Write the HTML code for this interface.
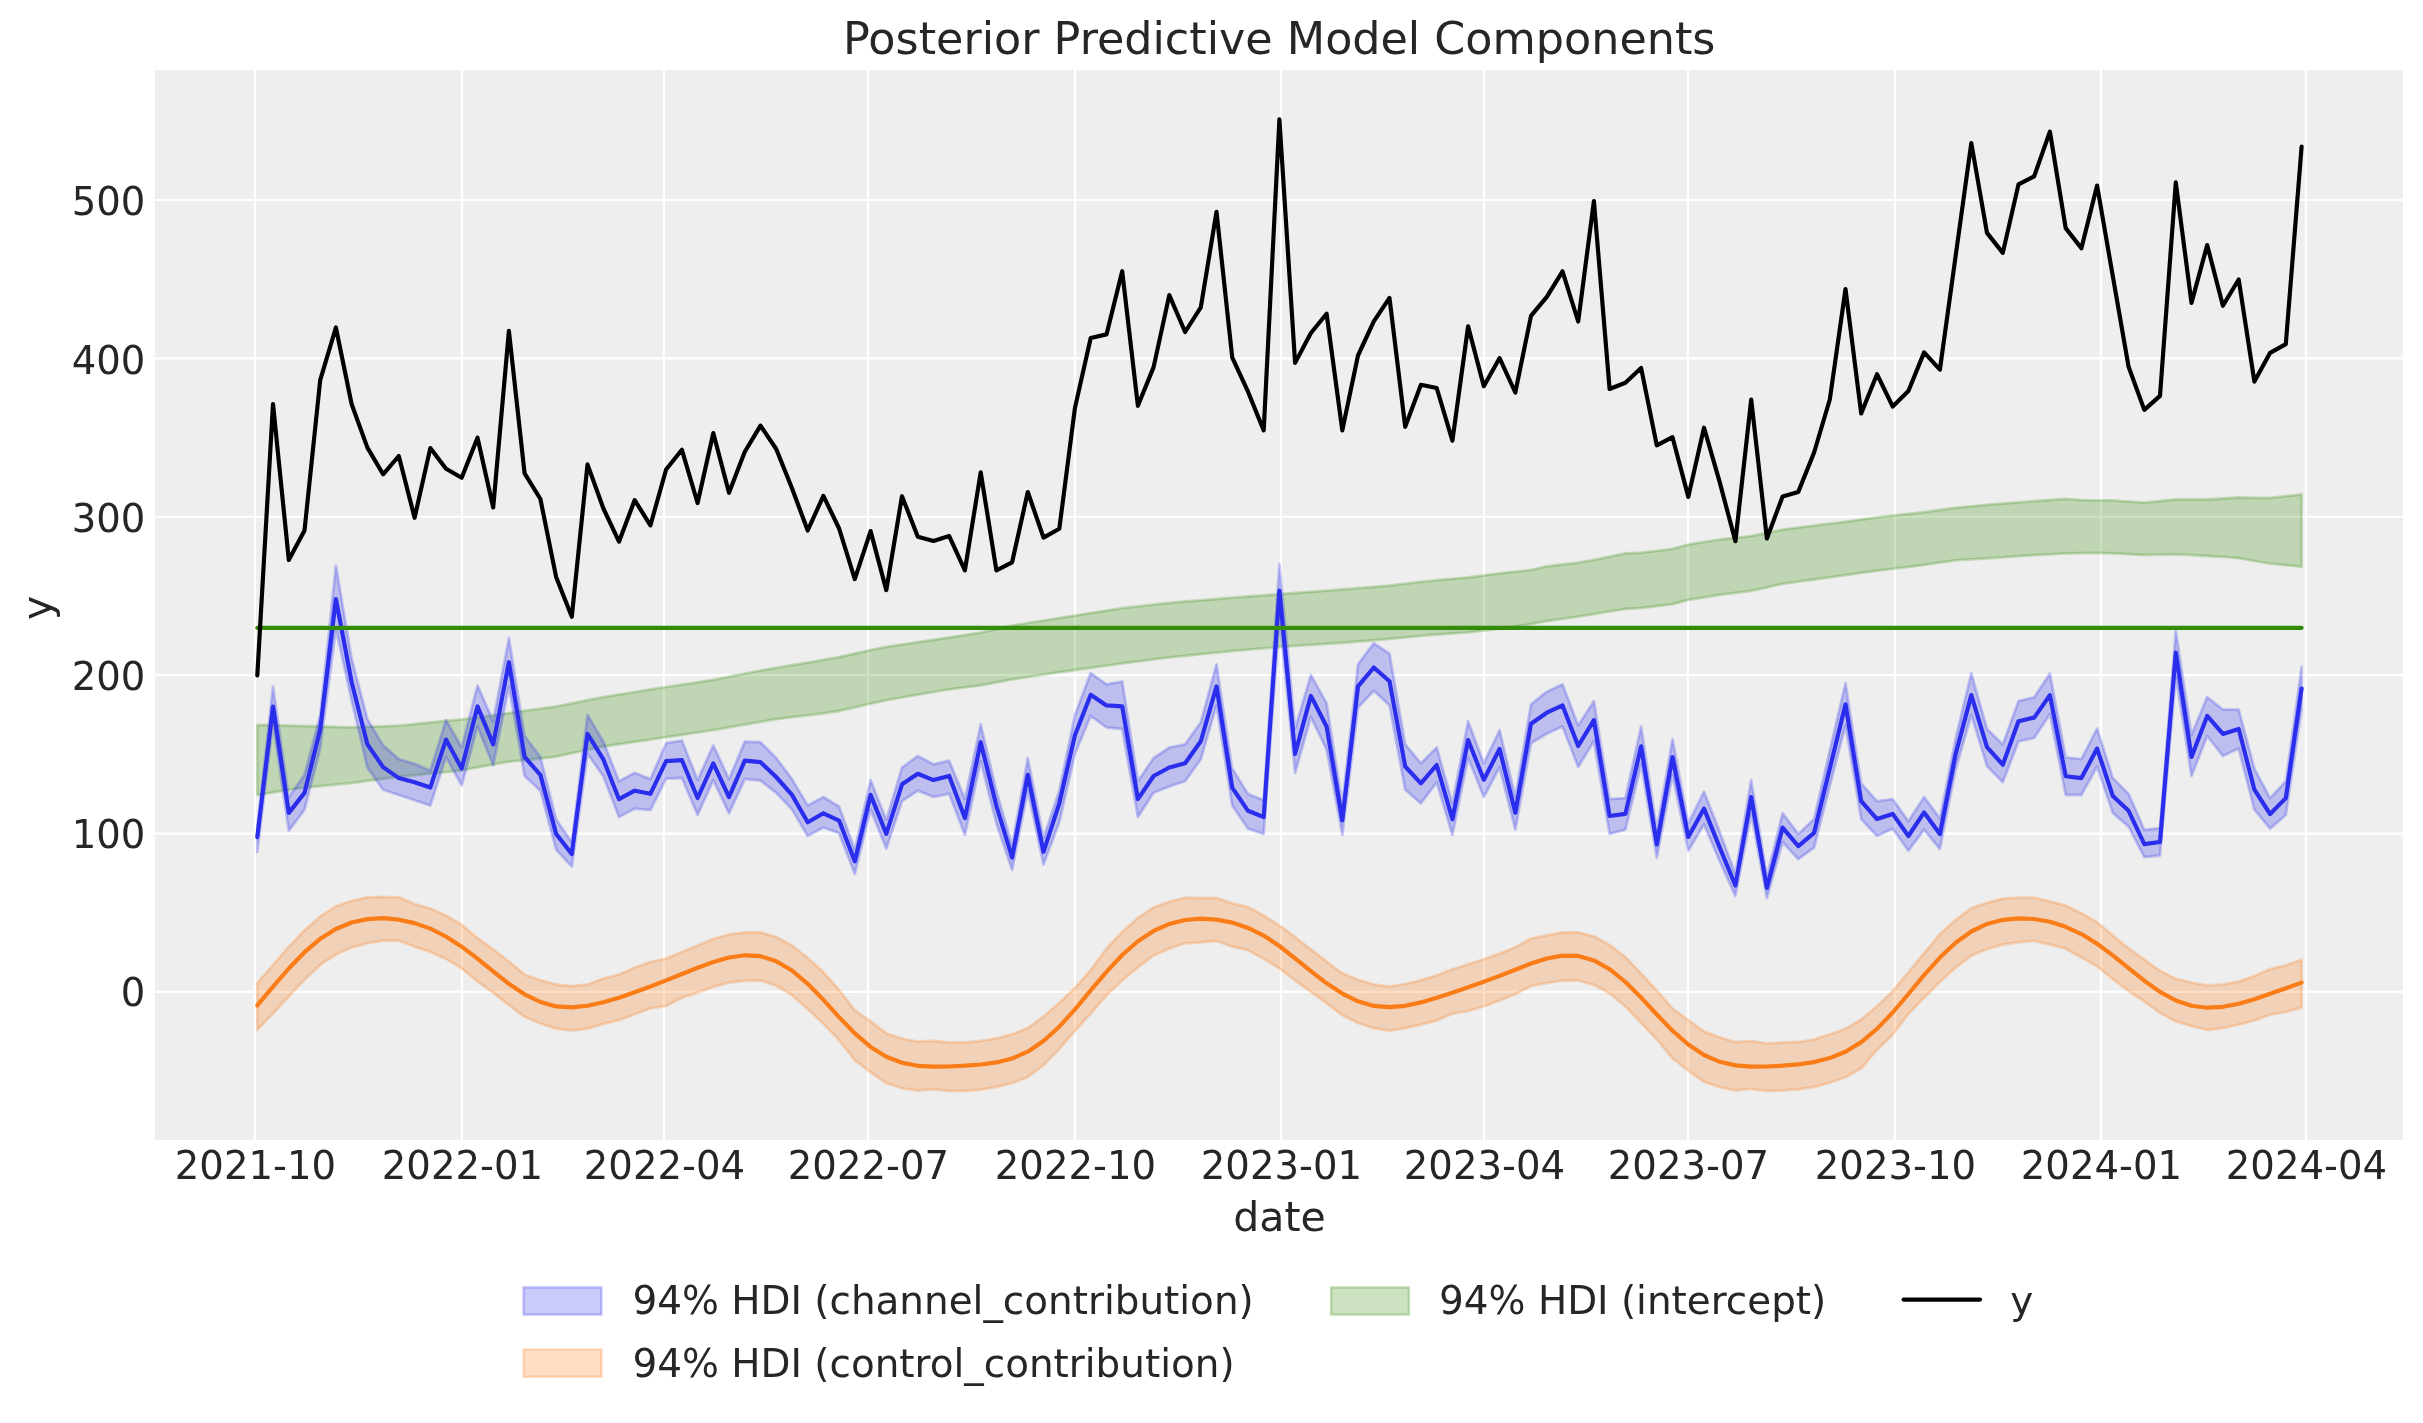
<!DOCTYPE html>
<html><head><meta charset="utf-8"><title>Posterior Predictive Model Components</title>
<style>html,body{margin:0;padding:0;background:#fff;}svg{display:block;will-change:transform;}</style>
</head><body>
<svg width="2423" height="1423" viewBox="0 0 2423 1423">
<rect x="0" y="0" width="2423" height="1423" fill="#ffffff"/>
<rect x="155.0" y="70.0" width="2248.0" height="1070.0" fill="#eeeeee"/>
<g stroke="#ffffff" stroke-width="2.22" stroke-linecap="butt">
<line x1="155.0" x2="2403.0" y1="991.90" y2="991.90"/>
<line x1="155.0" x2="2403.0" y1="833.52" y2="833.52"/>
<line x1="155.0" x2="2403.0" y1="675.14" y2="675.14"/>
<line x1="155.0" x2="2403.0" y1="516.76" y2="516.76"/>
<line x1="155.0" x2="2403.0" y1="358.38" y2="358.38"/>
<line x1="155.0" x2="2403.0" y1="200.00" y2="200.00"/>
<line x1="255.00" x2="255.00" y1="70.0" y2="1140.0"/>
<line x1="462.00" x2="462.00" y1="70.0" y2="1140.0"/>
<line x1="664.00" x2="664.00" y1="70.0" y2="1140.0"/>
<line x1="868.00" x2="868.00" y1="70.0" y2="1140.0"/>
<line x1="1075.00" x2="1075.00" y1="70.0" y2="1140.0"/>
<line x1="1281.00" x2="1281.00" y1="70.0" y2="1140.0"/>
<line x1="1484.00" x2="1484.00" y1="70.0" y2="1140.0"/>
<line x1="1688.00" x2="1688.00" y1="70.0" y2="1140.0"/>
<line x1="1895.00" x2="1895.00" y1="70.0" y2="1140.0"/>
<line x1="2101.00" x2="2101.00" y1="70.0" y2="1140.0"/>
<line x1="2306.00" x2="2306.00" y1="70.0" y2="1140.0"/>
</g>
<g>
<polygon points="257.3,724.9 273.0,725.2 288.8,725.6 304.5,726.0 320.2,726.5 335.9,727.0 351.6,727.3 367.4,726.8 383.1,726.3 398.8,725.7 414.6,724.1 430.3,722.5 446.0,720.9 461.7,719.4 477.5,717.7 493.2,715.4 508.9,713.1 524.6,710.8 540.4,708.7 556.1,706.5 571.8,703.4 587.5,700.2 603.2,697.2 619.0,694.6 634.7,692.0 650.4,689.4 666.1,687.0 681.9,684.7 697.6,682.3 713.3,679.8 729.0,676.7 744.8,673.6 760.5,670.5 776.2,667.9 792.0,665.2 807.7,662.6 823.4,659.9 839.1,657.1 854.8,653.6 870.6,650.1 886.3,646.9 902.0,644.6 917.8,642.2 933.5,639.8 949.2,637.5 964.9,635.1 980.7,632.7 996.4,629.1 1012.1,625.6 1027.8,623.0 1043.5,620.5 1059.3,618.1 1075.0,615.6 1090.7,613.1 1106.5,610.6 1122.2,608.2 1137.9,606.4 1153.6,604.6 1169.3,602.9 1185.1,601.5 1200.8,600.3 1216.5,599.0 1232.2,597.7 1248.0,596.5 1263.7,595.4 1279.4,594.2 1295.1,593.0 1310.9,591.8 1326.6,590.7 1342.3,589.5 1358.0,588.2 1373.8,587.0 1389.5,585.6 1405.2,583.7 1420.9,581.9 1436.7,580.2 1452.4,578.8 1468.1,577.5 1483.8,575.4 1499.6,573.3 1515.3,571.7 1531.0,570.0 1546.8,566.3 1562.5,564.5 1578.2,562.7 1593.9,559.9 1609.6,556.7 1625.4,553.4 1641.1,552.7 1656.8,550.9 1672.5,548.9 1688.3,544.6 1704.0,542.0 1719.7,539.5 1735.4,537.8 1751.2,536.1 1766.9,532.9 1782.6,529.6 1798.3,527.6 1814.1,525.6 1829.8,523.7 1845.5,521.8 1861.2,519.6 1877.0,517.3 1892.7,515.6 1908.4,514.0 1924.1,512.2 1939.9,510.0 1955.6,507.8 1971.3,506.3 1987.0,504.8 2002.8,503.6 2018.5,502.4 2034.2,501.2 2049.9,500.0 2065.7,498.9 2081.4,500.1 2097.1,500.3 2112.8,500.4 2128.6,501.6 2144.3,502.7 2160.0,501.1 2175.8,499.5 2191.5,499.5 2207.2,499.5 2222.9,498.5 2238.7,497.5 2254.4,497.8 2270.1,497.9 2285.8,496.2 2301.6,494.5 2301.6,566.7 2285.8,565.2 2270.1,563.6 2254.4,561.0 2238.7,558.2 2222.9,556.9 2207.2,556.0 2191.5,555.1 2175.8,554.3 2160.0,554.6 2144.3,555.0 2128.6,554.2 2112.8,553.4 2097.1,552.9 2081.4,553.1 2065.7,553.4 2049.9,554.3 2034.2,555.2 2018.5,556.2 2002.8,557.3 1987.0,558.3 1971.3,559.3 1955.6,560.3 1939.9,562.5 1924.1,564.9 1908.4,566.9 1892.7,568.8 1877.0,570.7 1861.2,572.9 1845.5,575.1 1829.8,577.3 1814.1,579.5 1798.3,581.6 1782.6,583.8 1766.9,587.4 1751.2,590.8 1735.4,592.8 1719.7,594.8 1704.0,597.3 1688.3,599.9 1672.5,604.2 1656.8,606.2 1641.1,608.0 1625.4,608.9 1609.6,611.5 1593.9,614.1 1578.2,616.6 1562.5,618.8 1546.8,621.0 1531.0,624.2 1515.3,626.4 1499.6,628.5 1483.8,630.6 1468.1,632.4 1452.4,633.4 1436.7,634.5 1420.9,635.8 1405.2,637.4 1389.5,638.9 1373.8,640.3 1358.0,641.5 1342.3,642.8 1326.6,643.8 1310.9,644.8 1295.1,645.8 1279.4,647.0 1263.7,648.3 1248.0,649.7 1232.2,651.0 1216.5,652.6 1200.8,654.2 1185.1,655.8 1169.3,657.4 1153.6,659.4 1137.9,661.4 1122.2,663.4 1106.5,665.6 1090.7,667.8 1075.0,670.0 1059.3,672.2 1043.5,674.6 1027.8,677.0 1012.1,679.4 996.4,682.4 980.7,685.4 964.9,687.4 949.2,689.4 933.5,692.0 917.8,694.7 902.0,697.5 886.3,700.2 870.6,703.7 854.8,707.3 839.1,711.0 823.4,713.3 807.7,715.3 792.0,717.2 776.2,719.2 760.5,721.8 744.8,724.6 729.0,727.3 713.3,730.1 697.6,732.5 681.9,734.9 666.1,737.2 650.4,739.6 634.7,741.9 619.0,744.2 603.2,746.5 587.5,749.8 571.8,753.2 556.1,756.7 540.4,758.5 524.6,760.1 508.9,761.7 493.2,764.4 477.5,767.4 461.7,770.3 446.0,772.1 430.3,773.6 414.6,775.2 398.8,776.8 383.1,778.8 367.4,780.9 351.6,783.1 335.9,784.6 320.2,786.1 304.5,787.5 288.8,789.9 273.0,792.4 257.3,794.9" fill="#328c06" fill-opacity="0.25" stroke="#328c06" stroke-opacity="0.25" stroke-width="2.78" stroke-linejoin="round"/>
<polygon points="257.3,827.6 273.0,686.4 288.8,797.1 304.5,774.9 320.2,714.9 335.9,565.6 351.6,658.5 367.4,719.1 383.1,745.4 398.8,759.1 414.6,763.8 430.3,770.7 446.0,720.1 461.7,747.5 477.5,685.4 493.2,721.2 508.9,637.9 524.6,735.9 540.4,757.0 556.1,819.2 571.8,842.4 587.5,714.9 603.2,741.2 619.0,781.2 634.7,772.8 650.4,779.1 666.1,743.2 681.9,740.5 697.6,780.1 713.3,745.4 729.0,779.1 744.8,741.6 760.5,742.2 776.2,758.0 792.0,779.1 807.7,805.4 823.4,797.0 839.1,806.5 854.8,849.7 870.6,780.1 886.3,820.2 902.0,767.5 917.8,755.9 933.5,764.3 949.2,760.7 964.9,799.1 980.7,724.3 996.4,791.0 1012.1,845.5 1027.8,758.0 1043.5,838.1 1059.3,790.7 1075.0,714.8 1090.7,673.1 1106.5,684.3 1122.2,681.5 1137.9,781.2 1153.6,758.0 1169.3,747.5 1185.1,744.3 1200.8,722.3 1216.5,664.3 1232.2,768.6 1248.0,793.9 1263.7,800.3 1279.4,564.2 1295.1,728.6 1310.9,674.9 1326.6,703.3 1342.3,804.5 1358.0,664.3 1373.8,643.2 1389.5,653.7 1405.2,744.3 1420.9,763.3 1436.7,747.5 1452.4,803.4 1468.1,721.2 1483.8,763.3 1499.6,730.0 1515.3,797.0 1531.0,704.3 1546.8,691.7 1562.5,684.3 1578.2,725.4 1593.9,701.1 1609.6,799.1 1625.4,798.1 1641.1,726.4 1656.8,829.7 1672.5,739.1 1688.3,823.4 1704.0,791.7 1719.7,831.8 1735.4,873.9 1751.2,780.1 1766.9,876.5 1782.6,813.2 1798.3,833.9 1814.1,819.1 1829.8,750.6 1845.5,683.2 1861.2,783.3 1877.0,801.2 1892.7,799.1 1908.4,821.2 1924.1,797.0 1939.9,818.5 1955.6,738.7 1971.3,673.4 1987.0,728.9 2002.8,744.4 2018.5,701.1 2034.2,697.3 2049.9,673.4 2065.7,757.4 2081.4,759.1 2097.1,728.6 2112.8,778.1 2128.6,793.9 2144.3,829.8 2160.0,828.1 2175.8,630.6 2191.5,734.9 2207.2,697.0 2222.9,709.6 2238.7,709.6 2254.4,768.6 2270.1,798.1 2285.8,781.3 2301.6,667.0 2301.6,709.6 2285.8,815.0 2270.1,828.7 2254.4,809.7 2238.7,748.6 2222.9,756.0 2207.2,736.0 2191.5,776.0 2175.8,675.9 2160.0,855.5 2144.3,857.2 2128.6,826.6 2112.8,812.9 2097.1,766.5 2081.4,795.0 2065.7,795.0 2049.9,714.1 2034.2,738.0 2018.5,741.5 2002.8,782.3 1987.0,766.1 1971.3,714.8 1955.6,769.7 1939.9,849.0 1924.1,829.7 1908.4,850.7 1892.7,828.6 1877.0,836.0 1861.2,819.1 1845.5,725.4 1829.8,786.0 1814.1,847.6 1798.3,859.2 1782.6,842.3 1766.9,898.2 1751.2,813.9 1735.4,896.1 1719.7,861.3 1704.0,824.4 1688.3,850.7 1672.5,774.9 1656.8,858.1 1641.1,764.3 1625.4,829.7 1609.6,833.9 1593.9,741.2 1578.2,767.0 1562.5,726.4 1546.8,733.8 1531.0,743.3 1515.3,829.7 1499.6,767.5 1483.8,797.0 1468.1,758.0 1452.4,835.0 1436.7,782.3 1420.9,803.4 1405.2,789.7 1389.5,705.4 1373.8,690.7 1358.0,707.5 1342.3,835.0 1326.6,749.7 1310.9,717.0 1295.1,772.9 1279.4,616.9 1263.7,834.0 1248.0,828.7 1232.2,805.5 1216.5,705.4 1200.8,759.2 1185.1,781.2 1169.3,786.5 1153.6,792.8 1137.9,817.0 1122.2,729.0 1106.5,727.5 1090.7,715.9 1075.0,753.8 1059.3,822.3 1043.5,864.5 1027.8,790.7 1012.1,870.0 996.4,823.5 980.7,761.2 964.9,834.9 949.2,793.8 933.5,797.0 917.8,790.7 902.0,801.2 886.3,848.6 870.6,809.6 854.8,873.9 839.1,833.2 823.4,827.5 807.7,836.0 792.0,809.6 776.2,792.8 760.5,780.5 744.8,779.1 729.0,813.4 713.3,780.1 697.6,814.9 681.9,778.0 666.1,778.7 650.4,810.1 634.7,808.6 619.0,817.1 603.2,776.0 587.5,753.8 571.8,866.6 556.1,849.7 540.4,790.7 524.6,776.0 508.9,686.4 493.2,765.4 477.5,726.4 461.7,785.5 446.0,757.0 430.3,805.5 414.6,800.2 398.8,795.0 383.1,789.7 367.4,767.6 351.6,700.5 335.9,628.5 320.2,748.6 304.5,809.7 288.8,830.8 273.0,723.3 257.3,851.9" fill="#2a2eec" fill-opacity="0.25" stroke="#2a2eec" stroke-opacity="0.25" stroke-width="2.78" stroke-linejoin="round"/>
<polyline points="257.3,837.1 273.0,706.5 288.8,812.9 304.5,792.9 320.2,729.6 335.9,599.0 351.6,682.0 367.4,744.4 383.1,767.1 398.8,778.1 414.6,782.3 430.3,787.6 446.0,739.6 461.7,768.6 477.5,706.4 493.2,744.4 508.9,662.2 524.6,757.0 540.4,774.9 556.1,833.9 571.8,854.0 587.5,733.8 603.2,759.1 619.0,799.2 634.7,790.7 650.4,793.8 666.1,761.2 681.9,760.1 697.6,798.0 713.3,763.3 729.0,797.0 744.8,760.7 760.5,762.2 776.2,777.0 792.0,794.9 807.7,822.3 823.4,813.3 839.1,820.6 854.8,861.3 870.6,794.9 886.3,833.9 902.0,784.3 917.8,773.8 933.5,780.1 949.2,775.9 964.9,818.1 980.7,742.2 996.4,806.0 1012.1,857.5 1027.8,774.9 1043.5,851.8 1059.3,803.4 1075.0,734.9 1090.7,694.8 1106.5,705.4 1122.2,706.4 1137.9,799.1 1153.6,776.0 1169.3,767.5 1185.1,763.3 1200.8,741.2 1216.5,686.4 1232.2,787.6 1248.0,810.8 1263.7,817.1 1279.4,590.6 1295.1,753.9 1310.9,695.9 1326.6,726.5 1342.3,820.3 1358.0,686.4 1373.8,667.5 1389.5,681.2 1405.2,766.5 1420.9,783.3 1436.7,765.0 1452.4,819.2 1468.1,740.1 1483.8,779.7 1499.6,749.0 1515.3,812.8 1531.0,723.7 1546.8,712.7 1562.5,705.4 1578.2,746.0 1593.9,720.1 1609.6,816.0 1625.4,813.9 1641.1,746.4 1656.8,844.4 1672.5,757.0 1688.3,837.0 1704.0,808.6 1719.7,847.5 1735.4,885.5 1751.2,797.0 1766.9,888.0 1782.6,827.6 1798.3,846.1 1814.1,832.8 1829.8,768.6 1845.5,704.3 1861.2,801.2 1877.0,819.1 1892.7,813.9 1908.4,836.0 1924.1,812.4 1939.9,834.0 1955.6,754.2 1971.3,695.1 1987.0,747.2 2002.8,764.7 2018.5,721.2 2034.2,717.6 2049.9,695.1 2065.7,776.2 2081.4,778.1 2097.1,748.6 2112.8,796.0 2128.6,810.8 2144.3,844.1 2160.0,842.0 2175.8,652.7 2191.5,757.0 2207.2,715.9 2222.9,733.9 2238.7,729.0 2254.4,789.7 2270.1,814.0 2285.8,798.1 2301.6,688.5" fill="none" stroke="#2a2eec" stroke-width="4.17" stroke-linejoin="round" stroke-linecap="round"/>
<polygon points="257.3,983.1 273.0,964.9 288.8,946.7 304.5,930.3 320.2,916.4 335.9,906.3 351.6,900.8 367.4,897.3 383.1,896.8 398.8,897.3 414.6,903.9 430.3,908.6 446.0,915.5 461.7,924.7 477.5,938.1 493.2,949.3 508.9,961.5 524.6,974.5 540.4,980.2 556.1,984.5 571.8,986.1 587.5,984.5 603.2,978.5 619.0,974.5 634.7,967.5 650.4,962.0 666.1,958.6 681.9,951.9 697.6,945.5 713.3,938.9 729.0,934.5 744.8,932.3 760.5,932.3 776.2,937.1 792.0,945.5 807.7,957.9 823.4,972.1 839.1,990.0 854.8,1010.3 870.6,1021.2 886.3,1033.3 902.0,1038.5 917.8,1041.5 933.5,1040.8 949.2,1042.5 964.9,1042.5 980.7,1040.8 996.4,1038.5 1012.1,1034.2 1027.8,1028.1 1043.5,1016.5 1059.3,1002.7 1075.0,987.8 1090.7,970.1 1106.5,948.5 1122.2,932.0 1137.9,917.8 1153.6,907.4 1169.3,901.7 1185.1,897.7 1200.8,897.9 1216.5,897.9 1232.2,903.4 1248.0,906.9 1263.7,915.5 1279.4,925.4 1295.1,937.2 1310.9,949.3 1326.6,961.5 1342.3,973.3 1358.0,979.7 1373.8,984.5 1389.5,986.6 1405.2,984.0 1420.9,980.2 1436.7,975.3 1452.4,969.3 1468.1,964.3 1483.8,959.3 1499.6,953.6 1515.3,947.2 1531.0,938.5 1546.8,935.4 1562.5,932.3 1578.2,932.3 1593.9,936.3 1609.6,944.9 1625.4,957.1 1641.1,973.2 1656.8,990.5 1672.5,1008.5 1688.3,1020.0 1704.0,1031.6 1719.7,1037.3 1735.4,1042.0 1751.2,1041.1 1766.9,1043.4 1782.6,1042.5 1798.3,1042.0 1814.1,1039.4 1829.8,1034.2 1845.5,1028.7 1861.2,1019.5 1877.0,1006.3 1892.7,991.1 1908.4,972.1 1924.1,953.1 1939.9,934.1 1955.6,919.9 1971.3,908.1 1987.0,902.8 2002.8,898.6 2018.5,897.7 2034.2,897.7 2049.9,901.3 2065.7,905.6 2081.4,913.2 2097.1,922.2 2112.8,935.4 2128.6,948.4 2144.3,959.4 2160.0,970.8 2175.8,978.7 2191.5,982.5 2207.2,985.4 2222.9,984.4 2238.7,981.6 2254.4,975.9 2270.1,968.9 2285.8,965.4 2301.6,959.7 2301.6,1007.6 2285.8,1012.0 2270.1,1014.8 2254.4,1020.5 2238.7,1024.7 2222.9,1028.1 2207.2,1030.0 2191.5,1026.2 2175.8,1021.4 2160.0,1012.9 2144.3,1001.5 2128.6,991.1 2112.8,979.1 2097.1,966.4 2081.4,957.5 2065.7,948.7 2049.9,944.6 2034.2,940.8 2018.5,942.3 2002.8,944.6 1987.0,949.3 1971.3,955.6 1955.6,967.7 1939.9,982.1 1924.1,997.7 1908.4,1013.9 1892.7,1034.7 1877.0,1049.9 1861.2,1068.5 1845.5,1077.2 1829.8,1082.7 1814.1,1087.1 1798.3,1089.3 1782.6,1090.5 1766.9,1091.1 1751.2,1088.8 1735.4,1090.5 1719.7,1087.1 1704.0,1081.9 1688.3,1070.6 1672.5,1058.5 1656.8,1039.4 1641.1,1022.9 1625.4,1006.5 1609.6,993.5 1593.9,984.8 1578.2,980.5 1562.5,980.5 1546.8,983.1 1531.0,986.0 1515.3,994.3 1499.6,1000.4 1483.8,1006.5 1468.1,1011.0 1452.4,1013.8 1436.7,1020.4 1420.9,1024.7 1405.2,1028.2 1389.5,1030.8 1373.8,1028.2 1358.0,1023.0 1342.3,1015.2 1326.6,1003.4 1310.9,991.8 1295.1,980.5 1279.4,968.4 1263.7,958.9 1248.0,950.2 1232.2,946.7 1216.5,941.0 1200.8,942.4 1185.1,943.3 1169.3,948.5 1153.6,955.4 1137.9,967.5 1122.2,980.5 1106.5,995.3 1090.7,1013.5 1075.0,1030.8 1059.3,1049.0 1043.5,1065.1 1027.8,1077.2 1012.1,1083.1 996.4,1087.1 980.7,1089.7 964.9,1091.1 949.2,1091.1 933.5,1089.3 917.8,1090.5 902.0,1088.3 886.3,1083.1 870.6,1072.3 854.8,1060.2 839.1,1040.3 823.4,1023.8 807.7,1009.1 792.0,995.2 776.2,985.7 760.5,980.5 744.8,980.8 729.0,982.5 713.3,986.9 697.6,992.6 681.9,997.8 666.1,1006.1 650.4,1008.4 634.7,1014.3 619.0,1020.1 603.2,1023.9 587.5,1028.7 571.8,1030.5 556.1,1028.7 540.4,1023.5 524.6,1016.9 508.9,1005.2 493.2,992.7 477.5,981.4 461.7,968.4 446.0,958.9 430.3,951.9 414.6,946.7 398.8,940.7 383.1,940.7 367.4,943.3 351.6,947.6 335.9,954.5 320.2,964.9 304.5,979.7 288.8,996.5 273.0,1013.5 257.3,1029.9" fill="#fa7c17" fill-opacity="0.25" stroke="#fa7c17" stroke-opacity="0.25" stroke-width="2.78" stroke-linejoin="round"/>
<polyline points="257.3,1005.3 273.0,986.7 288.8,968.5 304.5,952.2 320.2,938.8 335.9,929.0 351.6,922.5 367.4,919.1 383.1,918.2 398.8,919.7 414.6,923.1 430.3,928.6 446.0,936.5 461.7,946.7 477.5,958.6 493.2,971.4 508.9,983.8 524.6,994.3 540.4,1002.0 556.1,1006.4 571.8,1007.4 587.5,1005.8 603.2,1002.3 619.0,997.7 634.7,992.3 650.4,986.5 666.1,980.4 681.9,974.0 697.6,967.7 713.3,962.0 729.0,957.5 744.8,955.3 760.5,956.2 776.2,961.2 792.0,970.5 807.7,983.8 823.4,999.8 839.1,1017.1 854.8,1033.4 870.6,1046.9 886.3,1056.7 902.0,1062.8 917.8,1065.8 933.5,1066.7 949.2,1066.5 964.9,1065.7 980.7,1064.5 996.4,1062.4 1012.1,1058.5 1027.8,1051.7 1043.5,1041.0 1059.3,1026.7 1075.0,1009.3 1090.7,990.4 1106.5,971.8 1122.2,955.0 1137.9,941.2 1153.6,930.9 1169.3,923.9 1185.1,920.0 1200.8,918.6 1216.5,919.6 1232.2,922.6 1248.0,927.9 1263.7,935.6 1279.4,946.0 1295.1,958.3 1310.9,971.1 1326.6,983.3 1342.3,993.6 1358.0,1001.3 1373.8,1005.9 1389.5,1007.2 1405.2,1005.8 1420.9,1002.4 1436.7,997.8 1452.4,992.7 1468.1,987.3 1483.8,981.8 1499.6,975.9 1515.3,969.7 1531.0,963.5 1546.8,958.5 1562.5,955.6 1578.2,955.9 1593.9,960.4 1609.6,969.2 1625.4,982.0 1641.1,997.6 1656.8,1014.5 1672.5,1030.7 1688.3,1044.5 1704.0,1055.0 1719.7,1061.8 1735.4,1065.4 1751.2,1066.6 1766.9,1066.5 1782.6,1065.7 1798.3,1064.4 1814.1,1062.1 1829.8,1058.1 1845.5,1051.7 1861.2,1042.1 1877.0,1028.9 1892.7,1012.5 1908.4,994.0 1924.1,975.1 1939.9,957.6 1955.6,942.8 1971.3,931.5 1987.0,923.9 2002.8,919.8 2018.5,918.3 2034.2,919.0 2049.9,921.8 2065.7,926.8 2081.4,934.1 2097.1,943.8 2112.8,955.4 2128.6,968.1 2144.3,980.7 2160.0,991.9 2175.8,1000.5 2191.5,1005.8 2207.2,1007.7 2222.9,1006.8 2238.7,1003.7 2254.4,999.2 2270.1,993.8 2285.8,988.2 2301.6,982.6" fill="none" stroke="#fa7c17" stroke-width="4.17" stroke-linejoin="round" stroke-linecap="round"/>
<line x1="257.3" x2="2301.6" y1="627.8" y2="627.8" stroke="#328c06" stroke-width="4.17" stroke-linecap="round"/>
<polyline points="257.3,675.3 273.0,404.0 288.8,560.0 304.5,530.5 320.2,380.1 335.9,327.5 351.6,404.0 367.4,447.6 383.1,474.3 398.8,456.0 414.6,517.8 430.3,448.1 446.0,468.7 461.7,477.7 477.5,437.7 493.2,507.5 508.9,330.9 524.6,473.4 540.4,499.0 556.1,576.9 571.8,616.8 587.5,464.4 603.2,508.0 619.0,541.7 634.7,500.1 650.4,525.4 666.1,469.5 681.9,449.8 697.6,503.0 713.3,433.0 729.0,492.8 744.8,451.8 760.5,425.6 776.2,449.0 792.0,488.3 807.7,530.5 823.4,495.9 839.1,528.5 854.8,579.1 870.6,531.1 886.3,590.1 902.0,496.2 917.8,536.7 933.5,540.9 949.2,536.1 964.9,570.4 980.7,472.3 996.4,570.4 1012.1,562.3 1027.8,492.0 1043.5,537.6 1059.3,528.8 1075.0,407.6 1090.7,338.0 1106.5,334.4 1122.2,271.2 1137.9,405.8 1153.6,367.1 1169.3,295.1 1185.1,332.0 1200.8,307.4 1216.5,211.8 1232.2,357.3 1248.0,391.7 1263.7,430.4 1279.4,119.3 1295.1,362.9 1310.9,333.0 1326.6,313.7 1342.3,430.4 1358.0,355.5 1373.8,321.4 1389.5,297.9 1405.2,426.8 1420.9,384.8 1436.7,388.0 1452.4,440.7 1468.1,326.4 1483.8,386.2 1499.6,358.1 1515.3,392.5 1531.0,315.9 1546.8,296.9 1562.5,271.3 1578.2,321.5 1593.9,201.0 1609.6,389.0 1625.4,382.7 1641.1,367.9 1656.8,445.3 1672.5,437.2 1688.3,496.9 1704.0,427.7 1719.7,482.2 1735.4,541.2 1751.2,399.6 1766.9,538.4 1782.6,496.4 1798.3,491.9 1814.1,452.5 1829.8,399.5 1845.5,289.1 1861.2,413.5 1877.0,374.2 1892.7,406.5 1908.4,391.0 1924.1,352.4 1939.9,369.6 1955.6,256.2 1971.3,143.0 1987.0,232.9 2002.8,252.9 2018.5,184.4 2034.2,176.3 2049.9,131.6 2065.7,228.1 2081.4,248.3 2097.1,185.5 2112.8,276.2 2128.6,366.8 2144.3,409.9 2160.0,395.9 2175.8,182.4 2191.5,302.9 2207.2,245.1 2222.9,305.8 2238.7,279.5 2254.4,381.6 2270.1,352.8 2285.8,344.2 2301.6,146.7" fill="none" stroke="#000000" stroke-width="4.17" stroke-linejoin="round" stroke-linecap="round"/>
</g>
<g font-family="'DejaVu Sans', sans-serif" font-size="38.9px" fill="#262626">
<text x="145.4" y="1006.2" text-anchor="end" font-size="38.6px">0</text>
<text x="145.4" y="848.0" text-anchor="end" font-size="38.6px">100</text>
<text x="145.4" y="689.8" text-anchor="end" font-size="38.6px">200</text>
<text x="145.4" y="531.7" text-anchor="end" font-size="38.6px">300</text>
<text x="145.4" y="373.5" text-anchor="end" font-size="38.6px">400</text>
<text x="145.4" y="215.3" text-anchor="end" font-size="38.6px">500</text>
<text x="255.4" y="1179.0" text-anchor="middle" font-size="38.6px">2021-10</text>
<text x="462.4" y="1179.0" text-anchor="middle" font-size="38.6px">2022-01</text>
<text x="664.4" y="1179.0" text-anchor="middle" font-size="38.6px">2022-04</text>
<text x="868.4" y="1179.0" text-anchor="middle" font-size="38.6px">2022-07</text>
<text x="1075.4" y="1179.0" text-anchor="middle" font-size="38.6px">2022-10</text>
<text x="1281.4" y="1179.0" text-anchor="middle" font-size="38.6px">2023-01</text>
<text x="1484.4" y="1179.0" text-anchor="middle" font-size="38.6px">2023-04</text>
<text x="1688.4" y="1179.0" text-anchor="middle" font-size="38.6px">2023-07</text>
<text x="1895.4" y="1179.0" text-anchor="middle" font-size="38.6px">2023-10</text>
<text x="2101.4" y="1179.0" text-anchor="middle" font-size="38.6px">2024-01</text>
<text x="2306.4" y="1179.0" text-anchor="middle" font-size="38.6px">2024-04</text>
<text x="1279.5" y="1230.8" text-anchor="middle" font-size="41px">date</text>
<text transform="translate(51.3,607.8) rotate(-90)" text-anchor="middle" font-size="41px">y</text>
<text x="1279.3" y="54.2" text-anchor="middle" font-size="44.44px">Posterior Predictive Model Components</text>
<rect x="523.6" y="1287.4" width="77.8" height="27.2" fill="#2a2eec" fill-opacity="0.25" stroke="#2a2eec" stroke-opacity="0.25" stroke-width="2.6"/>
<rect x="523.6" y="1349.6" width="77.8" height="27.2" fill="#fa7c17" fill-opacity="0.25" stroke="#fa7c17" stroke-opacity="0.25" stroke-width="2.6"/>
<rect x="1331.1" y="1287.4" width="77.8" height="27.2" fill="#328c06" fill-opacity="0.25" stroke="#328c06" stroke-opacity="0.25" stroke-width="2.6"/>
<line x1="1903.6" x2="1980" y1="1299.6" y2="1299.6" stroke="#000" stroke-width="4.17" stroke-linecap="round"/>
<text x="632.5" y="1314.1">94% HDI (channel_contribution)</text>
<text x="632.5" y="1376.8">94% HDI (control_contribution)</text>
<text x="1439.1" y="1314.1">94% HDI (intercept)</text>
<text x="2010.3" y="1314.1">y</text>
</g>
</svg>
</body></html>
